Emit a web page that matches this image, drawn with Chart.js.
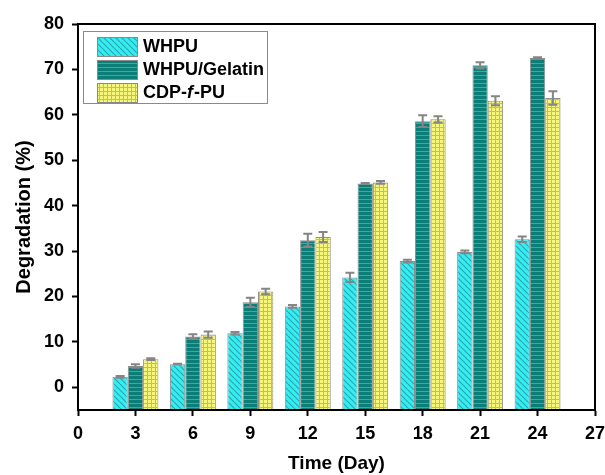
<!DOCTYPE html>
<html>
<head>
<meta charset="utf-8">
<script src="https://cdn.jsdelivr.net/npm/chart.js@4.4.1/dist/chart.umd.min.js"></script>
<style>
  html, body { margin: 0; padding: 0; background: #fff; }
  #wrap { width: 605px; height: 475px; position: relative; }
</style>
</head>
<body>
<div id="wrap"><canvas id="chart"></canvas></div>
<script>
// Data
const days = [3, 6, 9, 12, 15, 18, 21, 24];
const whpu = [2.3, 5.1, 11.9, 17.8, 24.2, 27.8, 29.8, 32.6];
const whpuErr = [0.2, 0.1, 0.3, 0.3, 1.0, 0.3, 0.3, 0.6];
const gelatin = [4.7, 11.2, 18.7, 32.4, 44.9, 58.6, 70.9, 72.5];
const gelatinErr = [0.4, 0.5, 1.0, 1.4, 0.1, 1.3, 0.7, 0.2];
const cdp = [6.2, 11.6, 21.1, 33.1, 45.1, 59.0, 63.1, 63.7];
const cdpErr = [0.2, 0.7, 0.6, 1.1, 0.3, 0.7, 1.0, 1.5];
const xTicks = [0, 3, 6, 9, 12, 15, 18, 21, 24, 27];
const yTicks = [0, 10, 20, 30, 40, 50, 60, 70, 80];

const FONT = '"Liberation Sans", Arial, sans-serif';

// Fill patterns
function makePattern(kind) {
    const c = document.createElement('canvas');
    const g = c.getContext('2d');
    if (kind === 'diag') {
        c.width = 6; c.height = 6;
        g.fillStyle = '#33EFF0';
        g.fillRect(0, 0, 6, 6);
        g.strokeStyle = '#2AA7B6';
        g.lineWidth = 1.2;
        for (let k = -6; k <= 12; k += 6) {
            g.beginPath();
            g.moveTo(k, 0);
            g.lineTo(k + 6, 6);
            g.stroke();
        }
    } else if (kind === 'horiz') {
        c.width = 4; c.height = 4;
        g.fillStyle = '#0C7E78';
        g.fillRect(0, 0, 4, 4);
        g.fillStyle = '#5E9A97';
        g.fillRect(0, 3, 4, 1);
    } else {
        c.width = 4; c.height = 4;
        g.fillStyle = '#F6F67C';
        g.fillRect(0, 0, 4, 4);
        g.fillStyle = '#BDBD7A';
        g.fillRect(0, 3, 4, 1);
        g.fillRect(3, 0, 1, 4);
    }
    return g.createPattern(c, 'repeat');
}

const patterns = [makePattern('diag'), makePattern('horiz'), makePattern('grid')];
const errors = [whpuErr, gelatinErr, cdpErr];
const labels = ['WHPU', 'WHPU/Gelatin', 'CDP-f-PU'];

const toPoints = vals => days.map((d, i) => ({ x: d, y: vals[i] }));

// Error bars
const errorBars = {
    id: 'errorBars',
    afterDatasetsDraw(chart) {
        const { ctx, scales: { y } } = chart;
        ctx.save();
        ctx.strokeStyle = '#858585';
        ctx.lineWidth = 2;
        chart.data.datasets.forEach((ds, di) => {
            const meta = chart.getDatasetMeta(di);
            meta.data.forEach((bar, i) => {
                const v = ds.data[i].y;
                const e = errors[di][i];
                const yHi = y.getPixelForValue(v + e);
                const yLo = y.getPixelForValue(v - e);
                const x = bar.x;
                ctx.beginPath();
                ctx.moveTo(x, yHi); ctx.lineTo(x, yLo);
                ctx.moveTo(x - 4.5, yHi); ctx.lineTo(x + 4.5, yHi);
                ctx.moveTo(x - 4.5, yLo); ctx.lineTo(x + 4.5, yLo);
                ctx.stroke();
            });
        });
        ctx.restore();
    }
};

// Frame around plot and legend inside
const frameLegend = {
    id: 'frameLegend',
    afterDraw(chart) {
        const { ctx, chartArea: a } = chart;
        ctx.save();
        ctx.strokeStyle = '#000';
        ctx.lineWidth = 2;
        ctx.strokeRect(a.left, a.top, a.right - a.left, a.bottom - a.top);

        // legend box
        ctx.lineWidth = 1;
        ctx.strokeStyle = '#8a8a8a';
        ctx.strokeRect(83.5, 31.5, 184, 72);
        const rows = [37, 60, 83];
        rows.forEach((ry, i) => {
            ctx.fillStyle = patterns[i];
            ctx.fillRect(97, ry, 41, 20);
            ctx.strokeStyle = '#8a8a8a';
            ctx.strokeRect(97.5, ry + 0.5, 40, 19);
        });
        ctx.fillStyle = '#000';
        ctx.textBaseline = 'middle';
        ctx.font = 'bold 18px ' + FONT;
        ctx.fillText('WHPU', 143, 47);
        ctx.fillText('WHPU/Gelatin', 143, 70);
        let x = 143;
        ctx.fillText('CDP-', x, 93);
        x += ctx.measureText('CDP-').width;
        ctx.font = 'italic bold 18px ' + FONT;
        ctx.fillText('f', x, 93);
        x += ctx.measureText('f').width + 1;
        ctx.font = 'bold 18px ' + FONT;
        ctx.fillText('-PU', x, 93);
        ctx.restore();
    }
};

new Chart(document.getElementById('chart'), {
    type: 'bar',
    data: {
        datasets: [whpu, gelatin, cdp].map((vals, i) => ({
            label: labels[i],
            data: toPoints(vals),
            backgroundColor: patterns[i],
            borderColor: '#8f8f8f',
            borderWidth: 1,
            base: -5,
            barPercentage: 1.0,
            categoryPercentage: 0.8
        }))
    },
    options: {
        responsive: true,
        maintainAspectRatio: false,
        animation: false,
        layout: { padding: { top: 24, right: 0, bottom: 0, left: 0 } },
        plugins: {
            legend: { display: false },
            tooltip: { enabled: false }
        },
        scales: {
            x: {
                type: 'linear',
                min: 0,
                max: 27,
                offset: false,
                afterBuildTicks: s => { s.ticks = xTicks.map(v => ({ value: v })); },
                afterFit: s => {
                    s.height = 65;
                    s.paddingRight = 10;
                    s.paddingLeft = 0;
                },
                grid: {
                    offset: false,
                    drawOnChartArea: false,
                    drawTicks: true,
                    tickLength: 6,
                    tickWidth: 2,
                    tickColor: '#000'
                },
                border: { display: true, color: '#000', width: 2 },
                ticks: {
                    color: '#000',
                    padding: 7,
                    font: { family: FONT, size: 18, weight: 'bold' }
                },
                title: {
                    display: true,
                    text: 'Time (Day)',
                    color: '#000',
                    padding: { top: 8, bottom: 0 },
                    font: { family: FONT, size: 19, weight: 'bold' }
                }
            },
            y: {
                min: -5,
                max: 80,
                afterBuildTicks: s => { s.ticks = yTicks.map(v => ({ value: v })); },
                afterFit: s => { s.width = 78; },
                grid: {
                    drawOnChartArea: false,
                    drawTicks: true,
                    tickLength: 6,
                    tickWidth: 2,
                    tickColor: '#000'
                },
                border: { display: true, color: '#000', width: 2 },
                ticks: {
                    color: '#000',
                    padding: 8,
                    font: { family: FONT, size: 18, weight: 'bold' }
                },
                title: {
                    display: true,
                    text: 'Degradation (%)',
                    color: '#000',
                    padding: { top: 12, bottom: 6 },
                    font: { family: FONT, size: 20, weight: 'bold' }
                }
            }
        }
    },
    plugins: [errorBars, frameLegend]
});
</script>
</body>
</html>
